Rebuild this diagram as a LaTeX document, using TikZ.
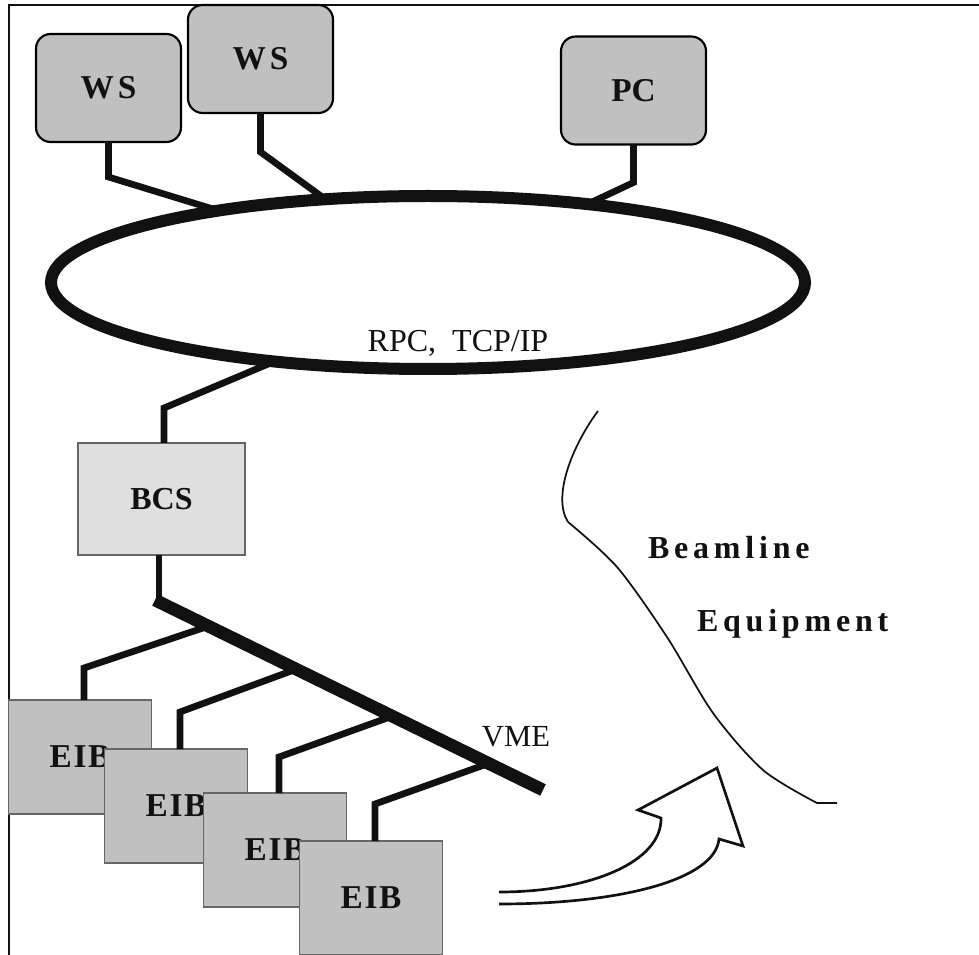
\documentclass[tikz,border=0pt]{standalone}
\usepackage{fontspec}
\setmainfont{Liberation Serif}
\usetikzlibrary{shapes.geometric,calc}
\definecolor{boxgray}{HTML}{C0C0C0}
\definecolor{bcsgray}{HTML}{DFDFDF}
\definecolor{edgegray}{HTML}{666666}
\definecolor{ink}{HTML}{111111}
\begin{document}
\begin{tikzpicture}[x=0.75pt,y=-0.75pt,
  rbox/.style={draw=black, line width=1.6pt, fill=boxgray, rounded corners=11pt,
    minimum width=108.75pt, minimum height=81pt, inner sep=0pt, outer sep=0pt,
    text=ink, font=\fontsize{25}{30}\selectfont\bfseries},
  sqbox/.style={draw=edgegray, line width=0.9pt, fill=boxgray,
    minimum width=107.25pt, minimum height=85.5pt, inner sep=0pt, outer sep=0pt,
    text=ink, font=\fontsize{25}{30}\selectfont\bfseries\addfontfeature{LetterSpace=5}},
  bcsbox/.style={sqbox, fill=bcsgray, minimum width=125.25pt, minimum height=84pt,
    font=\fontsize{24}{29}\selectfont\bfseries},
  conn/.style={draw=ink, line width=5pt},
  busline/.style={draw=ink, line width=9.5pt},
  thin/.style={draw=ink, line width=1.3pt},
  bigarrow/.style={draw=ink, line width=2pt, line join=miter},
  plain/.style={text=ink, inner sep=0pt, outer sep=0pt},
  spaced/.style={plain, font=\fontsize{24}{29}\selectfont\bfseries\addfontfeature{LetterSpace=15}}
]
\useasboundingbox (0,0) rectangle (979,955);
\fill[white] (0,0) rectangle (979,955);

% frame
\draw[draw=ink, line width=2.2pt] (979,5) -- (9,5) -- (9,955);

% network ring
\node[draw=ink, ellipse, line width=9pt, minimum width=565.5pt, minimum height=129.75pt,
  inner sep=0pt, outer sep=0pt] (net) at (428,282.5) {};
\coordinate (j1) at (213,209);
\coordinate (j2) at (325,199);
\coordinate (j3) at (590,203);
\coordinate (j4) at (273,362);

% hosts
\node[rbox] (ws1) at (108.5,88) {W\kern3pt S};
\node[rbox] (ws2) at (260.5,59) {W\kern3pt S};
\node[rbox] (pc) at (633.5,90.5) {PC};
\draw[conn] (ws1.south) -- ++(0,35) -- (j1);
\draw[conn] (ws2.south) -- ++(0,39) -- (j2);
\draw[conn] (pc.south) -- ++(0,38) -- (j3);

\node[plain, font=\fontsize{24}{29}\selectfont, anchor=base] (rpc) at (458,352) {RPC,\hspace{0.5em}TCP/IP};

% BCS
\node[bcsbox] (bcs) at (161.5,499) {BCS};
\draw[conn] (j4) -- (164,408) -- ($(bcs.north)+(2.5,0)$);

% VME bus
\coordinate (busA) at (155,600);
\coordinate (busB) at (543,790);
\draw[conn] ($(bcs.south)+(-2.5,0)$) -- (159,604);
\draw[busline] (busA) -- (busB);
\node[plain, font=\fontsize{23}{28}\selectfont, anchor=base] (vme) at (516,746) {VME};

% EIB crates
\node[sqbox] (eib1) at (80,757) {EIB};
\node[sqbox] (eib2) at (176,806) {EIB};
\node[sqbox] (eib3) at (275,850) {EIB};
\node[sqbox] (eib4) at (371,898) {EIB};
\coordinate (b1) at (206,627);
\coordinate (b2) at (294,670);
\coordinate (b3) at (390,717);
\coordinate (b4) at (487,764);
\draw[conn] (b1) -- (84,668) -- ($(eib1.north)+(4,0)$);
\draw[conn] (b2) -- (180,712) -- ($(eib2.north)+(4,0)$);
\draw[conn] (b3) -- (279,757) -- ($(eib3.north)+(4,0)$);
\draw[conn] (b4) -- (375,804) -- ($(eib4.north)+(4,0)$);

% beamline equipment boundary
\draw[thin] (598,411) .. controls (572,446) and (552,497) .. (568,522);
\draw[thin] plot[smooth] coordinates {(568,522) (617,567) (667,637) (713,713) (763,770) (817,803)} -- (837,803);
\node[spaced, anchor=base west] (beam) at (648,559) {Beamline};
\node[spaced, anchor=base west] (equip) at (697,632) {Equipment};

% curved arrow
\draw[bigarrow] (499,892) .. controls (590,892) and (662,862) .. (661,818)
  -- (638,810) -- (717,768) -- (743,846) -- (719,839)
  .. controls (715,880) and (620,904) .. (499,904);
\end{tikzpicture}
\end{document}
